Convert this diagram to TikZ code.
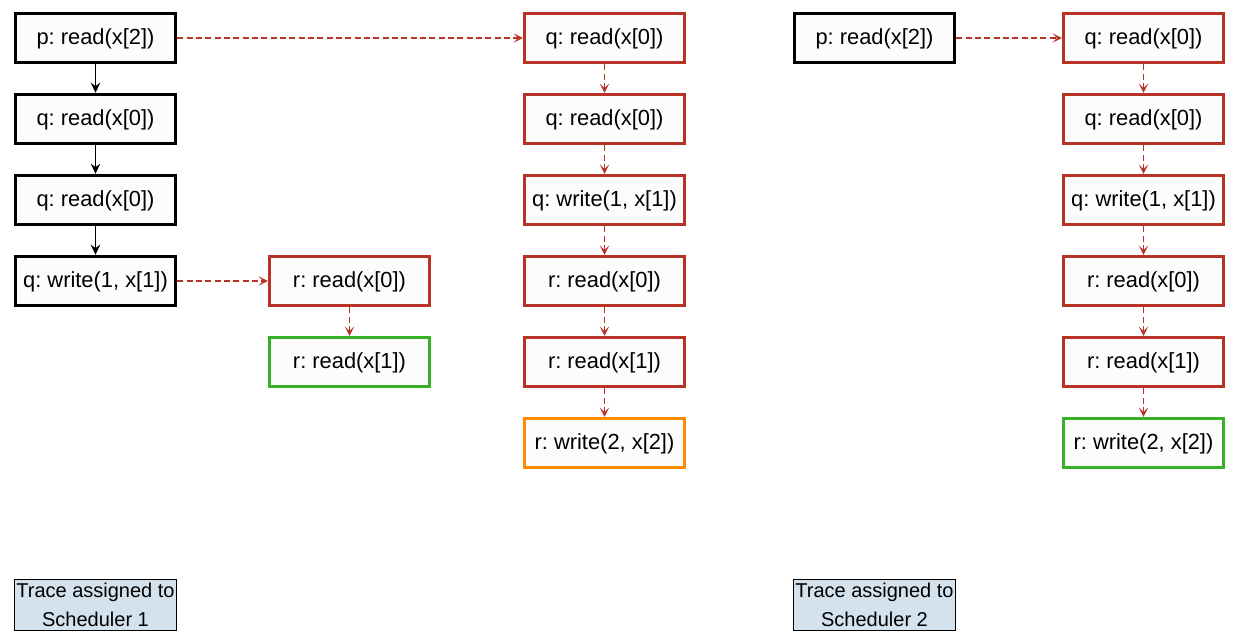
\documentclass[tikz,border=0pt]{standalone}
\usepackage{fontspec}
\setmainfont{Liberation Sans}
\usetikzlibrary{arrows.meta}
\definecolor{rd}{RGB}{184,50,38}
\definecolor{gr}{RGB}{54,178,38}
\definecolor{og}{RGB}{255,140,0}
\definecolor{lb}{RGB}{212,226,238}
\definecolor{bx}{RGB}{252,252,252}
\frenchspacing
\begin{document}
\frenchspacing
\begin{tikzpicture}[x=0.75pt,y=-0.75pt,
  stepbox/.style={draw, line width=2.2pt, fill=bx, minimum width=160.5*0.75pt, minimum height=49.5*0.75pt, inner sep=0pt, text depth=2pt, font=\fontsize{16.4pt}{19pt}\selectfont\frenchspacing},
  blk/.style={stepbox, draw=black},
  red/.style={stepbox, draw=rd},
  grn/.style={stepbox, draw=gr},
  org/.style={stepbox, draw=og},
  lbl/.style={draw=black, line width=0.6pt, fill=lb, minimum width=162*0.75pt, minimum height=51*0.75pt, inner sep=0pt, align=center, font=\fontsize{15pt}{22pt}\selectfont},
  solidarr/.style={draw=black, line width=1.2pt, -{Stealth[length=7.5pt,width=7pt,inset=2.5pt]}},
  dasharr/.style={draw=rd, line width=1.2pt, dash pattern=on 4.5pt off 2.5pt, -{Stealth[length=7pt,width=7pt,inset=3.5pt]}}
]
\useasboundingbox (0,0) rectangle (1239,643);
% column 1
\node[blk] (a1) at (95.5,38) {p: read(x[2])};
\node[blk] (a2) at (95.5,119) {q: read(x[0])};
\node[blk] (a3) at (95.5,200) {q: read(x[0])};
\node[blk] (a4) at (95.5,281) {q: write(1, x[1])};
% column r
\node[red] (b1) at (349.5,281) {r: read(x[0])};
\node[grn] (b2) at (349.5,362) {r: read(x[1])};
% column 3
\node[red] (c1) at (604.5,38) {q: read(x[0])};
\node[red] (c2) at (604.5,119) {q: read(x[0])};
\node[red] (c3) at (604.5,200) {q: write(1, x[1])};
\node[red] (c4) at (604.5,281) {r: read(x[0])};
\node[red] (c5) at (604.5,362) {r: read(x[1])};
\node[org] (c6) at (604.5,443) {r: write(2, x[2])};
% column 4
\node[blk] (d1) at (874.5,38) {p: read(x[2])};
% column 5
\node[red] (e1) at (1143.5,38) {q: read(x[0])};
\node[red] (e2) at (1143.5,119) {q: read(x[0])};
\node[red] (e3) at (1143.5,200) {q: write(1, x[1])};
\node[red] (e4) at (1143.5,281) {r: read(x[0])};
\node[red] (e5) at (1143.5,362) {r: read(x[1])};
\node[grn] (e6) at (1143.5,443) {r: write(2, x[2])};
% labels
\node[lbl] (l1) at (95.5,605) {Trace assigned to\\Scheduler 1};
\node[lbl] (l2) at (874.5,605) {Trace assigned to\\Scheduler 2};
% arrows
\draw[solidarr] (a1) -- (a2);
\draw[solidarr] (a2) -- (a3);
\draw[solidarr] (a3) -- (a4);
\draw[dasharr] (a1) -- (c1);
\draw[dasharr] (a4) -- (b1);
\draw[dasharr] (b1) -- (b2);
\draw[dasharr] (c1) -- (c2);
\draw[dasharr] (c2) -- (c3);
\draw[dasharr] (c3) -- (c4);
\draw[dasharr] (c4) -- (c5);
\draw[dasharr] (c5) -- (c6);
\draw[dasharr] (d1) -- (e1);
\draw[dasharr] (e1) -- (e2);
\draw[dasharr] (e2) -- (e3);
\draw[dasharr] (e3) -- (e4);
\draw[dasharr] (e4) -- (e5);
\draw[dasharr] (e5) -- (e6);
\end{tikzpicture}
\end{document}
